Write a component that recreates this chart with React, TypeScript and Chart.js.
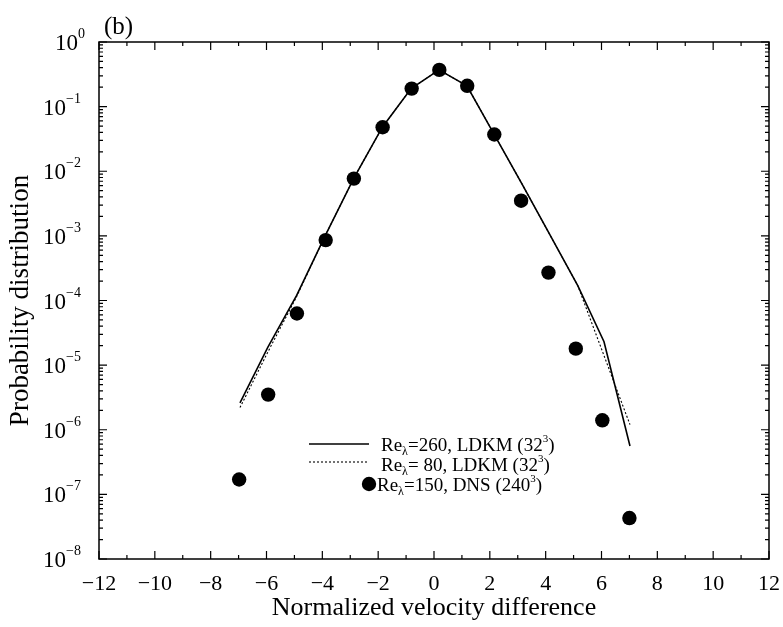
import { useEffect, useRef } from "react";
import { Chart, registerables } from "chart.js";

Chart.register(...registerables);

// DNS at Re_lambda = 150 (240^3): bin centres and probabilities
const dnsX = [-6.98, -5.94, -4.91, -3.88, -2.87, -1.84, -0.8, 0.19, 1.19, 2.16, 3.12, 4.1, 5.08, 6.03, 7.0];
const dnsP = [1.7e-7, 3.5e-6, 6.3e-5, 8.6e-4, 7.7e-3, 0.048, 0.19, 0.37, 0.21, 0.037, 3.5e-3, 2.7e-4, 1.8e-5, 1.4e-6, 4.3e-8];

// LDKM (32^3) curves
const ldkmX = [-6.95, -5.95, -4.92, -3.9, -2.88, -1.85, -0.82, 0.18, 1.18, 2.16, 3.14, 4.12, 5.15, 6.09, 7.02];
const ldkm260 = [2.6e-6, 1.9e-5, 1.2e-4, 1.0e-3, 7.7e-3, 0.048, 0.19, 0.37, 0.21, 0.037, 6.5e-3, 1.1e-3, 1.7e-4, 2.3e-5, 5.6e-7];
const ldkm80 = [2.2e-6, 1.6e-5, 1.15e-4, 1.0e-3, 7.7e-3, 0.048, 0.19, 0.37, 0.21, 0.037, 6.5e-3, 1.1e-3, 1.7e-4, 1.4e-5, 1.2e-6];

// Axis ticks
const xTickValues = [-12, -10, -8, -6, -4, -2, 0, 2, 4, 6, 8, 10, 12];
const yDecadeExps = [0, -1, -2, -3, -4, -5, -6, -7, -8];

// Legend entries: Re_lambda value, model, resolution base
const legendValues = ["=260", "= 80", "=150"];
const legendModels = ["LDKM (32", "LDKM (32", "DNS (240"];

const SERIF = '"Liberation Serif", "Times New Roman", serif';

const toPoints = (xs: number[], ys: number[]) => xs.map((x, i) => ({ x, y: ys[i] }));

type Part = { t: string; size: number; dy: number };

function drawRich(ctx: CanvasRenderingContext2D, parts: Part[], x: number, y: number, align: "left" | "right" = "left") {
  let total = 0;
  for (const p of parts) {
    ctx.font = `${p.size}px ${SERIF}`;
    total += ctx.measureText(p.t).width;
  }
  let cx = align === "right" ? x - total : x;
  ctx.textAlign = "left";
  ctx.textBaseline = "alphabetic";
  for (const p of parts) {
    ctx.font = `${p.size}px ${SERIF}`;
    ctx.fillText(p.t, cx, y + p.dy);
    cx += ctx.measureText(p.t).width;
  }
}

const framePlugin = {
  id: "frameAndLabels",
  afterDraw(chart: any) {
    const { ctx, chartArea: a } = chart;
    const xs = chart.scales.x;
    const ys = chart.scales.y;
    ctx.save();
    ctx.strokeStyle = "#000";
    ctx.fillStyle = "#000";

    // box
    ctx.lineWidth = 1.5;
    ctx.strokeRect(a.left, a.top, a.right - a.left, a.bottom - a.top);

    // x ticks (major every 2, minor every 1), on bottom and top
    ctx.lineWidth = 1.2;
    ctx.beginPath();
    for (let v = -12; v <= 12; v++) {
      const px = xs.getPixelForValue(v);
      const len = v % 2 === 0 ? 8 : 4;
      ctx.moveTo(px, a.bottom);
      ctx.lineTo(px, a.bottom - len);
      ctx.moveTo(px, a.top);
      ctx.lineTo(px, a.top + len);
    }
    // y ticks (decades and 2..9 minors), on left and right
    for (const e of yDecadeExps) {
      const py = ys.getPixelForValue(Math.pow(10, e));
      ctx.moveTo(a.left, py);
      ctx.lineTo(a.left + 8, py);
      ctx.moveTo(a.right, py);
      ctx.lineTo(a.right - 8, py);
      if (e < 0) {
        for (let m = 2; m <= 9; m++) {
          const pm = ys.getPixelForValue(m * Math.pow(10, e));
          ctx.moveTo(a.left, pm);
          ctx.lineTo(a.left + 4, pm);
          ctx.moveTo(a.right, pm);
          ctx.lineTo(a.right - 4, pm);
        }
      }
    }
    ctx.stroke();

    // x tick labels
    ctx.font = `22px ${SERIF}`;
    ctx.textAlign = "center";
    ctx.textBaseline = "alphabetic";
    for (const v of xTickValues) {
      const px = xs.getPixelForValue(v);
      const label = v < 0 ? "\u2212" + Math.abs(v) : String(v);
      ctx.fillText(label, px, a.bottom + 31);
    }

    // y tick labels as powers of ten
    for (const e of yDecadeExps) {
      const py = ys.getPixelForValue(Math.pow(10, e));
      const sup = e < 0 ? "\u2212" + Math.abs(e) : "0";
      drawRich(ctx, [
        { t: "10", size: 23, dy: 8 },
        { t: sup, size: 14, dy: -4 },
      ], e < 0 ? 81 : 85, py, "right");
    }

    // panel label
    ctx.font = `25px ${SERIF}`;
    ctx.textAlign = "left";
    ctx.fillText("(b)", 104, 34);

    // legend
    const lx0 = 309;
    const lx1 = 369;
    ctx.lineWidth = 1.5;
    ctx.setLineDash([]);
    ctx.beginPath();
    ctx.moveTo(lx0, 444);
    ctx.lineTo(lx1, 444);
    ctx.stroke();
    ctx.lineWidth = 1.1;
    ctx.setLineDash([2, 2]);
    ctx.beginPath();
    ctx.moveTo(lx0, 462);
    ctx.lineTo(lx1, 462);
    ctx.stroke();
    ctx.setLineDash([]);
    ctx.beginPath();
    ctx.arc(369, 484, 7.2, 0, Math.PI * 2);
    ctx.fill();

    const rowY = [451, 471, 491];
    const rowX = [381, 381, 377];
    legendValues.forEach((val, i) => {
      drawRich(ctx, [
        { t: "Re", size: 19, dy: 0 },
        { t: "\u03bb", size: 12, dy: 4 },
        { t: val + ", " + legendModels[i], size: 19, dy: 0 },
        { t: "3", size: 11, dy: -9 },
        { t: ")", size: 19, dy: 0 },
      ], rowX[i], rowY[i]);
    });

    ctx.restore();
  },
};

export default function App() {
  const canvasRef = useRef<HTMLCanvasElement | null>(null);

  useEffect(() => {
    const canvas = canvasRef.current;
    if (!canvas) return;
    const chart = new Chart(canvas, {
      type: "scatter",
      data: {
        datasets: [
          {
            label: "Re=260, LDKM",
            data: toPoints(ldkmX, ldkm260),
            showLine: true,
            borderColor: "#000",
            borderWidth: 1.6,
            pointRadius: 0,
            fill: false,
          },
          {
            label: "Re=80, LDKM",
            data: toPoints(ldkmX, ldkm80),
            showLine: true,
            borderColor: "#000",
            borderWidth: 1.1,
            borderDash: [2, 2],
            pointRadius: 0,
            fill: false,
          },
          {
            label: "Re=150, DNS",
            data: toPoints(dnsX, dnsP),
            showLine: false,
            pointRadius: 7.2,
            pointBackgroundColor: "#000",
            pointBorderColor: "#000",
            pointBorderWidth: 0,
          },
        ],
      },
      options: {
        animation: false,
        responsive: false,
        devicePixelRatio: 1,
        events: [],
        layout: { padding: { top: 42, right: 14, bottom: 0, left: 0 } },
        plugins: {
          legend: { display: false },
          tooltip: { enabled: false },
        },
        scales: {
          x: {
            type: "linear",
            min: -12,
            max: 12,
            grid: { display: false },
            border: { display: false },
            ticks: { display: false },
            title: {
              display: true,
              text: "Normalized velocity difference",
              color: "#000",
              font: { family: SERIF, size: 26, lineHeight: 1 },
              padding: { top: 0, bottom: 6 },
            },
            afterFit: (s: any) => {
              s.height = 68;
            },
          },
          y: {
            type: "logarithmic",
            min: 1e-8,
            max: 1,
            grid: { display: false },
            border: { display: false },
            ticks: { display: false },
            title: {
              display: true,
              text: "Probability distribution",
              color: "#000",
              font: { family: SERIF, size: 27, lineHeight: 1 },
              padding: { top: 7, bottom: 0 },
            },
            afterFit: (s: any) => {
              s.width = 99;
            },
          },
        },
      },
      plugins: [framePlugin],
    } as any);
    return () => chart.destroy();
  }, []);

  return (
    <div style={{ position: "absolute", left: 0, top: 0, width: 783, height: 627, background: "#fff" }}>
      <canvas ref={canvasRef} width={783} height={627} style={{ display: "block" }} />
    </div>
  );
}
